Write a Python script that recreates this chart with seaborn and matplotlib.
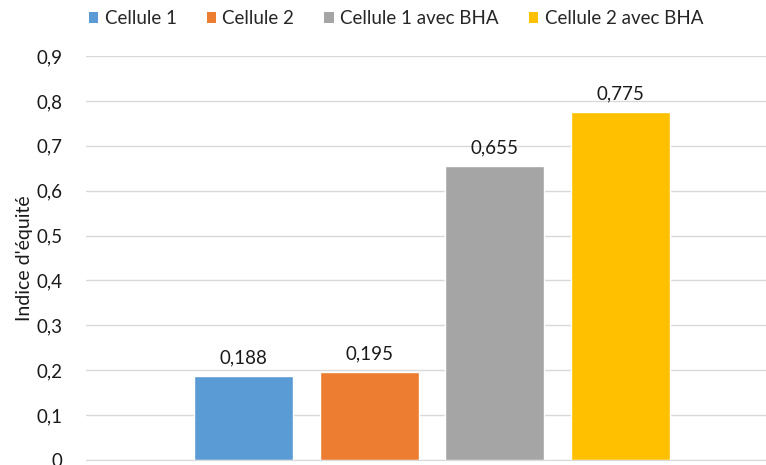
import numpy as np
import pandas as pd
import matplotlib.pyplot as plt
import seaborn as sns
from matplotlib.ticker import FuncFormatter

# Values
series = ['Cellule 1', 'Cellule 2', 'Cellule 1 avec BHA', 'Cellule 2 avec BHA']
values = [0.188, 0.195, 0.655, 0.775]
colors = ['#5B9BD5', '#ED7D31', '#A5A5A5', '#FFC000']
y_ticks = [0.0, 0.1, 0.2, 0.3, 0.4, 0.5, 0.6, 0.7, 0.8, 0.9]

df = pd.DataFrame({'groupe': [''] * len(series), 'serie': series, 'indice': values})

sns.set_style('white')
plt.rcParams['font.family'] = ['Lato', 'DejaVu Sans']


def comma(v, pos=None):
    if abs(v) < 1e-9:
        return '0'
    return f'{v:.1f}'.replace('.', ',')


fig = plt.figure(figsize=(7.66, 4.65), dpi=100)
ax = fig.add_axes([86 / 766, 5 / 465, 680 / 766, 404 / 465])

sns.barplot(data=df, x='groupe', y='indice', hue='serie', palette=colors,
            saturation=1, width=0.8, gap=0.21, ax=ax, legend=True)

ax.set_ylim(0, 0.9)
ax.set_xlim(-0.551, 0.532)
ax.set_yticks(y_ticks)
ax.yaxis.set_major_formatter(FuncFormatter(comma))
ax.tick_params(axis='y', length=0, pad=17, labelsize=13.5, labelcolor='#1a1a1a')
ax.set_xticks([])
ax.set_xlabel('')
ax.set_ylabel("Indice d'équité", fontsize=14, color='#1a1a1a', labelpad=2)
ax.grid(axis='y', color='#D9D9D9', linewidth=1)
ax.set_axisbelow(True)
for s in ['top', 'right', 'left']:
    ax.spines[s].set_visible(False)
ax.spines['bottom'].set_color('#D9D9D9')

for cont in ax.containers:
    ax.bar_label(cont, labels=[f'{v:.3f}'.replace('.', ',') for v in cont.datavalues],
                 padding=7, fontsize=13.5, color='#1a1a1a')

handles, labels = ax.get_legend_handles_labels()
ax.get_legend().remove()
for h in handles:
    h.set_edgecolor('none')
fig.legend(handles, labels, loc='center', bbox_to_anchor=(396 / 766, 1 - 19 / 465), ncol=4,
           frameon=False, fontsize=13.5, handlelength=0.5, handleheight=0.5,
           handletextpad=0.35, columnspacing=1.6)

fig.savefig('out.png', dpi=100)
